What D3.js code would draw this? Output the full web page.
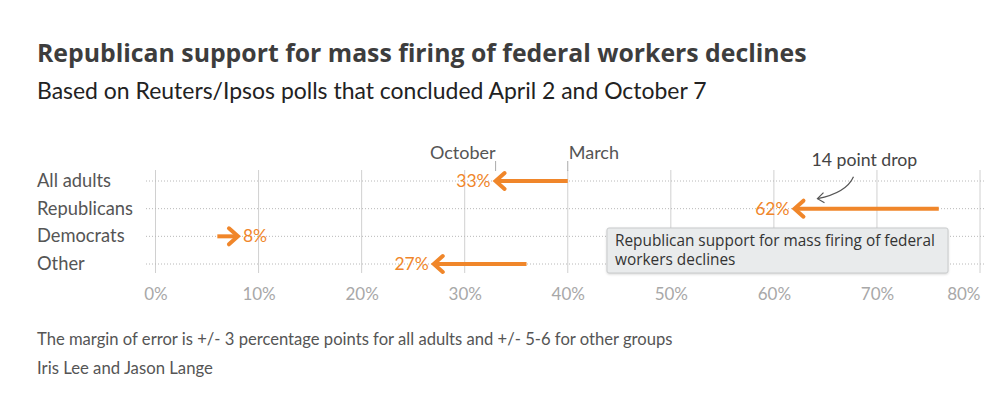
<!DOCTYPE html>
<html><head><meta charset="utf-8">
<script src="https://cdn.jsdelivr.net/npm/d3@7"></script>
<style>
body{margin:0;background:#fff;}
svg{display:block;font-family:Lato,"Noto Sans",sans-serif;}
</style></head>
<body><svg id="c" width="1000" height="410"></svg>
<script>
const categories = ["All adults","Republicans","Democrats","Other"];
const marchValues = [40, 76, 6, 36];
const octoberValues = [33, 62, 8, 27];
const tickValues = [0,10,20,30,40,50,60,70,80];
const tickLabels = ["0%","10%","20%","30%","40%","50%","60%","70%","80%"];

const orange = "#f0862a";
const svg = d3.select("#c");
const x = d3.scaleLinear().domain([0,80]).range([155.5,980]);
const y = d3.scalePoint().domain(categories).range([181,264]);

function fit(sel, target){
  const n = sel.node(); const fs = parseFloat(sel.attr("font-size"));
  const w = n.getComputedTextLength();
  if (w>0) sel.attr("font-size", fs*target/w);
  return sel;
}

fit(svg.append("text").attr("x",37).attr("y",62).attr("font-size",24).attr("font-weight",700)
  .attr("font-family","'Open Sans','Noto Sans',sans-serif")
  .attr("fill","#3d3d3d").text("Republican support for mass firing of federal workers declines"), 770);
fit(svg.append("text").attr("x",37).attr("y",99).attr("font-size",22).attr("fill","#222")
  .text("Based on Reuters/Ipsos polls that concluded April 2 and October 7"), 670);

// vertical gridlines
svg.append("g").selectAll("line").data(tickValues).join("line")
  .attr("x1",d=>x(d)).attr("x2",d=>x(d)).attr("y1",170).attr("y2",273)
  .attr("stroke","#d0d0d0").attr("stroke-width",1);
// tick labels
const axis = d3.axisBottom(x).tickValues(tickValues).tickFormat((d,i)=>tickLabels[i]).tickSize(0).tickPadding(0);
const ag = svg.append("g").attr("transform","translate(0,288)").call(axis);
ag.select(".domain").remove();
ag.selectAll("text").attr("font-size",17).attr("fill","#a8a8a8").attr("font-family","Lato,'Noto Sans',sans-serif");
ag.selectAll("text").filter(d=>d===80).attr("text-anchor","end").attr("dx",0);

// row dotted lines
svg.append("g").selectAll("line").data(categories).join("line")
  .attr("x1",146).attr("x2",986).attr("y1",d=>y(d)).attr("y2",d=>y(d))
  .attr("stroke","#b8b8b8").attr("stroke-width",1).attr("stroke-dasharray","1,2");
// row labels
const rl = svg.append("g").selectAll("text").data(categories).join("text")
  .attr("x",37).attr("y",d=>y(d)+6).attr("font-size",17.5).attr("fill","#555").text(d=>d);
{
  const rep = rl.filter(d=>d==="Republicans");
  fit(rep, 96);
  rl.attr("font-size", rep.attr("font-size"));
}

// header labels
svg.append("line").attr("x1",x(octoberValues[0])).attr("x2",x(octoberValues[0])).attr("y1",161).attr("y2",171).attr("stroke","#aaa");
svg.append("line").attr("x1",x(marchValues[0])).attr("x2",x(marchValues[0])).attr("y1",161).attr("y2",171).attr("stroke","#aaa");
svg.append("text").attr("x",x(octoberValues[0])).attr("y",159).attr("text-anchor","end").attr("font-size",18).attr("fill","#555").text("October");
svg.append("text").attr("x",x(marchValues[0])+1).attr("y",159).attr("font-size",18).attr("fill","#555").text("March");

// arrows
const rows = categories.map((c,i)=>({c, from:marchValues[i], to:octoberValues[i]}));
const g = svg.append("g");
rows.forEach(r=>{
  const yy = y(r.c), x0 = x(r.from), x1 = x(r.to);
  const dir = x1 < x0 ? -1 : 1;
  g.append("line").attr("x1",x0).attr("x2",x1 - dir*2).attr("y1",yy).attr("y2",yy)
    .attr("stroke",orange).attr("stroke-width",4);
  g.append("path").attr("d",`M${x1-dir*9},${yy-8}L${x1},${yy}L${x1-dir*9},${yy+8}`)
    .attr("fill","none").attr("stroke",orange).attr("stroke-width",4).attr("stroke-linejoin","miter").attr("stroke-linecap","round");
  g.append("text").attr("x",x1 + dir*5).attr("y",yy+6).attr("text-anchor",dir<0?"end":"start")
    .attr("font-size",17.5).attr("fill",orange).text(r.to+"%");
});

// annotation
const ax = x(octoberValues[1]), ay = y("Republicans");
svg.append("text").attr("x",ax+17).attr("y",ay-43).attr("font-size",17.7).attr("fill","#444").text("14 point drop");
svg.append("path").attr("d",`M${ax+59},${ay-32} Q${ax+52},${ay-16} ${ax+23},${ay-10}`)
  .attr("fill","none").attr("stroke","#555").attr("stroke-width",1.2);
svg.append("path").attr("d",`M${ax+29},${ay-16} L${ax+23},${ay-10} L${ax+30},${ay-6}`)
  .attr("fill","none").attr("stroke","#555").attr("stroke-width",1.2);

// tooltip box
const tip = svg.append("g");
tip.append("rect").attr("x",607).attr("y",228).attr("width",341).attr("height",45).attr("rx",2)
  .attr("fill","#e9ebec").attr("stroke","#c9cbcc").style("filter","drop-shadow(0px 1px 1px rgba(0,0,0,0.15))");
fit(tip.append("text").attr("x",615).attr("y",246).attr("font-size",15).attr("fill","#333")
  .attr("font-family","'Open Sans','Noto Sans',sans-serif").text("Republican support for mass firing of federal"), 320);
tip.append("text").attr("x",615).attr("y",265).attr("font-size",15.4).attr("fill","#333")
  .attr("font-family","'Open Sans','Noto Sans',sans-serif").text("workers declines");

// footnotes
fit(svg.append("text").attr("x",37).attr("y",345).attr("font-size",15).attr("fill","#555")
  .text("The margin of error is +/- 3 percentage points for all adults and +/- 5-6 for other groups"), 636);
fit(svg.append("text").attr("x",37).attr("y",374).attr("font-size",15).attr("fill","#555").text("Iris Lee and Jason Lange"), 176);
</script></body></html>
